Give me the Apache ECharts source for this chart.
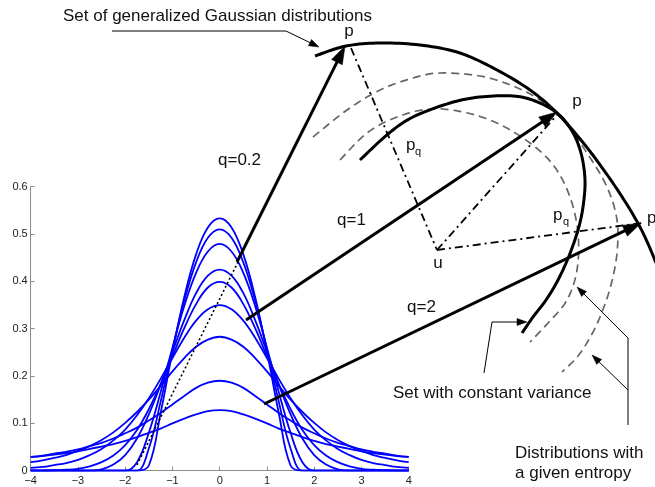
<!DOCTYPE html>
<html><head><meta charset="utf-8">
<script src="https://cdn.jsdelivr.net/npm/echarts@6/dist/echarts.min.js"></script>
<style>html,body{margin:0;padding:0;background:#fff}#c{width:655px;height:487px}</style>
</head><body><div id="c"></div>
<script>
// x sample positions of the plotted distributions
const xValues = [-4,-3.75,-3.5,-3.25,-3,-2.75,-2.5,-2.25,-2,-1.75,-1.5,-1.25,-1,-0.75,-0.5,-0.25,0,
                 0.25,0.5,0.75,1,1.25,1.5,1.75,2,2.25,2.5,2.75,3,3.25,3.5,3.75,4];
// density values (one array per curve)
const curveA = [0,0,0,0,0,0,0,0,0,0,0.011,0.122,0.251,0.367,0.457,0.514,0.533,0.514,0.457,0.367,0.251,0.122,0.011,0,0,0,0,0,0,0,0,0,0];
const curveB = [0,0,0,0,0,0,0,0,0,0,0.047,0.146,0.256,0.359,0.440,0.492,0.510,0.492,0.440,0.359,0.256,0.146,0.047,0,0,0,0,0,0,0,0,0,0];
const curveC = [0,0,0,0,0,0,0,0,0,0.018,0.080,0.166,0.260,0.348,0.418,0.463,0.479,0.463,0.418,0.348,0.260,0.166,0.080,0.018,0,0,0,0,0,0,0,0,0];
const curveD = [0,0,0,0,0,0,0.003,0.013,0.033,0.068,0.119,0.182,0.251,0.318,0.375,0.412,0.425,0.412,0.375,0.318,0.251,0.182,0.119,0.068,0.033,0.013,0.003,0,0,0,0,0,0];
const curveGauss = [0.0001,0.0003,0.001,0.002,0.004,0.009,0.018,0.032,0.054,0.086,0.130,0.183,0.242,0.301,0.352,0.387,0.399,0.387,0.352,0.301,0.242,0.183,0.130,0.086,0.054,0.032,0.018,0.009,0.004,0.002,0.001,0.0003,0.0001];
const curveE = [0.006,0.008,0.012,0.016,0.023,0.033,0.046,0.064,0.087,0.117,0.153,0.194,0.238,0.281,0.317,0.341,0.350,0.341,0.317,0.281,0.238,0.194,0.153,0.117,0.087,0.064,0.046,0.033,0.023,0.016,0.012,0.008,0.006];
const curveF = [0.018,0.022,0.027,0.033,0.042,0.052,0.065,0.081,0.101,0.124,0.150,0.179,0.210,0.238,0.262,0.277,0.283,0.277,0.262,0.238,0.210,0.179,0.150,0.124,0.101,0.081,0.065,0.052,0.042,0.033,0.027,0.022,0.018];
const curveG = [0.029,0.032,0.036,0.040,0.045,0.052,0.059,0.068,0.079,0.091,0.106,0.122,0.140,0.158,0.175,0.186,0.190,0.186,0.175,0.158,0.140,0.122,0.106,0.091,0.079,0.068,0.059,0.052,0.045,0.040,0.036,0.032,0.029];
const curveH = [0.029,0.031,0.034,0.037,0.041,0.046,0.051,0.056,0.063,0.071,0.080,0.089,0.100,0.110,0.119,0.126,0.128,0.126,0.119,0.110,0.100,0.089,0.080,0.071,0.063,0.056,0.051,0.046,0.041,0.037,0.034,0.031,0.029];
const curves = [curveA, curveB, curveC, curveD, curveGauss, curveE, curveF, curveG, curveH];
const xTicks = [-4,-3,-2,-1,0,1,2,3,4];
const yTicks = [0,0.1,0.2,0.3,0.4,0.5,0.6];

const FONT = '"Liberation Sans", Arial, sans-serif';
const chart = echarts.init(document.getElementById('c'), null, {renderer:'canvas'});

// Catmull-Rom densification for the hand-drawn diagram curves
function spline(p, steps){
  steps = steps || 10;
  const out=[p[0]];
  for(let i=0;i<p.length-1;i++){
    const p0=p[Math.max(0,i-1)], p1=p[i], p2=p[i+1], p3=p[Math.min(p.length-1,i+2)];
    for(let s=1;s<=steps;s++){
      const t=s/steps, t2=t*t, t3=t2*t;
      const f=(a,b,c,d)=>0.5*((2*b)+(-a+c)*t+(2*a-5*b+4*c-d)*t2+(-a+3*b-3*c+d)*t3);
      out.push([f(p0[0],p1[0],p2[0],p3[0]), f(p0[1],p1[1],p2[1],p3[1])]);
    }
  }
  return out;
}
function head(x1,y1,x2,y2,len,half){
  const dx=x2-x1, dy=y2-y1, L=Math.hypot(dx,dy), ux=dx/L, uy=dy/L;
  const bx=x2-ux*len, by=y2-uy*len;
  return {pts:[[x2,y2],[bx-uy*half,by+ux*half],[bx+uy*half,by-ux*half]], bx:bx+ux*2, by:by+uy*2};
}
const G = [];
function line(points, w, color, dash){
  G.push({type:'polyline', z:100, shape:{points},
    style:{stroke:color||'#000', lineWidth:w, fill:null, lineDash:dash||null, lineCap:'butt', lineJoin:'round'}});
}
function arrow(points, w, len, half){
  const n=points.length, a=points[n-2], b=points[n-1];
  const h=head(a[0],a[1],b[0],b[1],len,half);
  const pts=points.slice(0,n-1).concat([[h.bx,h.by]]);
  line(pts, w);
  G.push({type:'polygon', z:101, shape:{points:h.pts}, style:{fill:'#000', stroke:'#000', lineWidth:0.5}});
}
function txt(s, x, y, size, align){
  G.push({type:'text', z:102, style:{text:s, x, y, font: size+'px '+FONT, fill:'#111',
    textAlign: align||'left', textVerticalAlign:'middle'}});
}

// dashed gray circles (sets with given entropy)
line(spline([[313,137],[347,110],[380,90],[413,78],[440,73],[480,76],[513,86],[540,100],[563,120],[587,153],[607,187],[617,220],[617,253],[611,285],[602,312],[592,334],[578,356],[562,372]]), 1.7, '#666', [8,5]);
line(spline([[340,160],[367,133],[397,117],[430,109],[463,112],[497,123],[530,143],[554,166],[570,197],[578,233],[577,270],[567,300],[549,322],[530,342]]), 1.7, '#666', [8,5]);
// thick solid arcs
line(spline([[315,56],[346,46],[380,43],[420,45],[460,53],[497,70],[530,90],[557,113],[585,145],[608,176],[626,203],[640,227],[649,246],[656,263]]), 3, '#000');
line(spline([[360,160],[388,134],[413,117],[450,103],[480,97],[513,96],[535,101],[557,113],[572,131],[581,153],[585,180],[583,207],[578,230],[569,256],[558,280],[546,300],[533,317],[522,333]]), 3, '#000');
// dash-dot lines from u
const DD=[8,4,2,4];
line([[351,48],[437,250]], 1.8, '#000', DD);
line([[437,250],[557,115]], 1.8, '#000', DD);
line([[437,250],[642,223]], 1.8, '#000', DD);
// dotted extension inside the plot
line([[137,465],[238,262]], 1.6, '#000', [2,2.5]);
// thick arrows
arrow([[237,262],[345,46]], 3, 18, 6);
arrow([[246,320],[557,112]], 3, 18, 6);
arrow([[264,404],[641,223]], 3, 18, 6);
// thin leaders
arrow([[112,31],[286,31],[319,47]], 1, 10, 3.5);
arrow([[484,373],[492,322],[527,322]], 1, 10, 3.5);
arrow([[628,425],[628,338],[577,287]], 1, 10, 3.5);
arrow([[628,390],[592,355]], 1, 10, 3.5);

// labels
txt('Set of generalized Gaussian distributions', 63, 16, 17);
txt('p', 349, 31.5, 17, 'center');
txt('q=0.2', 218, 160.5, 17);
txt('q=1', 337, 220.5, 17);
txt('q=2', 407, 307.5, 17);
txt('p', 406, 145, 17);
txt('q', 415, 151.5, 11);
txt('u', 438, 263.5, 17, 'center');
txt('p', 577, 101.5, 17, 'center');
txt('p', 553, 215, 17);
txt('q', 563, 221.5, 11);
txt('p', 647, 218.5, 17);
txt('Set with constant variance', 393, 393.5, 17);
txt('Distributions with', 515, 453.5, 17);
txt('a given entropy', 515, 473, 17);

const axisCommon = {
  axisLine:{onZero:false, lineStyle:{color:'#8c8c8c', width:1}},
  axisTick:{inside:true, length:4, lineStyle:{color:'#8c8c8c'}},
  splitLine:{show:false},
  axisLabel:{color:'#222', fontSize:11, fontFamily:FONT}
};
chart.setOption({
  animation:false,
  backgroundColor:'#fff',
  grid:{left:30.7, right:246.3, top:186.7, bottom:16.3, containLabel:false},
  xAxis:Object.assign({type:'value', min:xTicks[0], max:xTicks[xTicks.length-1], interval:1}, axisCommon,
    {axisLabel:Object.assign({}, axisCommon.axisLabel, {margin:5, formatter:v => v<0 ? '\u2212'+Math.abs(v) : String(v)})}),
  yAxis:Object.assign({type:'value', min:yTicks[0], max:yTicks[yTicks.length-1], interval:0.1}, axisCommon,
    {axisLabel:Object.assign({}, axisCommon.axisLabel, {margin:3, formatter:v => v===0 ? '0' : v.toFixed(1)})}),
  series: curves.map(arr => ({
    type:'line', showSymbol:false, silent:true, smooth:0.4, clip:true,
    lineStyle:{color:'#0000ff', width:1.8},
    data: xValues.map((x,i) => [x, arr[i]])
  })),
  graphic:{elements:G}
});
</script></body></html>
